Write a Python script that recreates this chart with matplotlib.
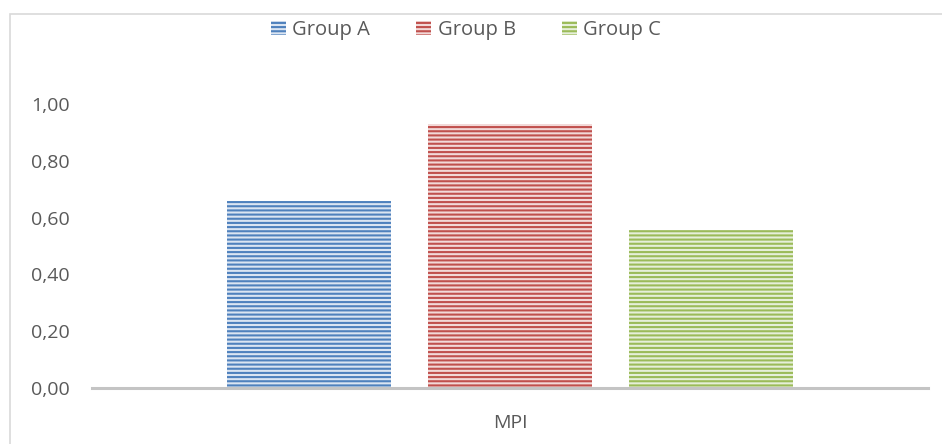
import matplotlib.pyplot as plt
from matplotlib.patches import Patch, Rectangle

plt.rcParams['font.family'] = ['Open Sans', 'DejaVu Sans']
plt.rcParams['hatch.linewidth'] = 1.5

categories = ['MPI']
groups = ['Group A', 'Group B', 'Group C']
values = [0.66, 0.93, 0.555]
yticks = [0.0, 0.2, 0.4, 0.6, 0.8, 1.0]

stripe = ['#4f81bd', '#c0504d', '#9bbb59']
fill = ['#dbe5f2', '#f2d9d8', '#e6efd9']

fig = plt.figure(figsize=(9.42, 4.44), dpi=100)
ax = fig.add_axes([92 / 942, 1 - 388 / 444, 836 / 942, 284 / 444])

offsets = [-0.24, 0.0, 0.24]
width = 0.196
for g, v, off, sc, fc in zip(groups, values, offsets, stripe, fill):
    ax.bar(0 + off, v, width=width, color=fc, edgecolor=sc, linewidth=0,
           hatch='----', label=g, zorder=2)

ax.set_xlim(-0.5, 0.5)
ax.set_ylim(0, 1.0)
ax.set_yticks(yticks)
ax.set_yticklabels([f'{t:.2f}'.replace('.', ',') for t in yticks])
ax.set_xticks([0])
ax.set_xticklabels(categories)
ax.tick_params(axis='y', length=0, pad=16, labelsize=14, labelcolor='#595959')
ax.tick_params(axis='x', length=0, pad=19, labelsize=14, labelcolor='#595959')
for s in ['top', 'right', 'left']:
    ax.spines[s].set_visible(False)
ax.spines['bottom'].set_color('#c4c4c4')
ax.spines['bottom'].set_linewidth(2.2)
ax.spines['bottom'].set_zorder(3)

handles = [Patch(facecolor=fc, edgecolor=sc, linewidth=0, hatch='----')
           for sc, fc in zip(stripe, fill)]
fig.legend(handles, groups, loc='center', ncol=3, frameon=False,
           bbox_to_anchor=(466 / 942, 1 - 30 / 444), fontsize=14.5,
           handlelength=0.75, handleheight=0.75, handletextpad=0.3,
           columnspacing=2.3, labelcolor='#595959')

# chart area border (left and top edges only fall inside the canvas)
fig.add_artist(Rectangle((10 / 942, -0.2), 1.2, 1.2 - 14.5 / 444,
                         transform=fig.transFigure, fill=False,
                         edgecolor='#d9d9d9', linewidth=1.2))

fig.savefig('out.png', dpi=100)
